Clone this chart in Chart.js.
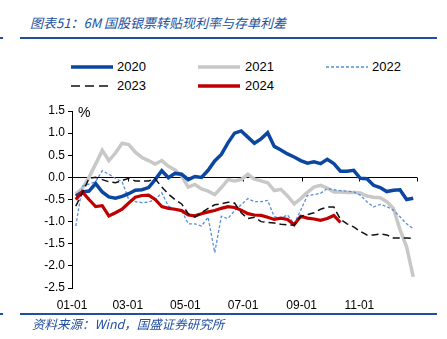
<!DOCTYPE html>
<html lang="zh-CN">
<head>
  <meta charset="UTF-8" />
  <title>6M国股银票转贴现利率与存单利差</title>
  <script src="https://cdn.jsdelivr.net/npm/chart.js"></script>
  <style>
    body {
      margin: 0;
      width: 447px;
      height: 339px;
      position: relative;
      overflow: hidden;
      background: #fff;
      font-family: "Liberation Sans", Arial, sans-serif;
    }
    .title, .source {
      position: absolute;
      font-family: "Noto Sans CJK SC", sans-serif;
      font-style: italic;
      color: #2150a0;
      white-space: nowrap;
      line-height: 16px;
    }
    .title { left: 30px; top: 15px; font-size: 13px; }
    .source { left: 32px; top: 316px; font-size: 12.5px; }
    .rule { position: absolute; height: 2px; background: #1e4fa0; }
    .lg { position: absolute; font-size: 13px; line-height: 14px; color: #000; }
    .sw { position: absolute; }
    .unit { position: absolute; left: 78px; top: 104px; font-size: 14px; }
    #wrap { position: absolute; left: 0; top: 95px; width: 447px; height: 225px; }
  </style>
</head>
<body>

  <div class="title">图表51：6M 国股银票转贴现利率与存单利差</div>
  <div class="rule" style="left:20px; top:37px; width:417px;"></div>
  <div class="rule" style="left:0; top:37px; width:3px;"></div>

  <svg class="sw" style="left:71px; top:62px" width="42" height="10"><line x1="0" y1="5" x2="42" y2="5" stroke="#0b47a1" stroke-width="3.5"/></svg>
  <div class="lg" style="left:117px; top:60px">2020</div>
  <svg class="sw" style="left:198px; top:62px" width="42" height="10"><line x1="0" y1="5" x2="42" y2="5" stroke="#c8c8c8" stroke-width="3.5"/></svg>
  <div class="lg" style="left:245px; top:60px">2021</div>
  <svg class="sw" style="left:326px; top:62px" width="42" height="10"><line x1="0" y1="5" x2="42" y2="5" stroke="#5a8fd8" stroke-width="1.3" stroke-dasharray="3 2"/></svg>
  <div class="lg" style="left:372px; top:60px">2022</div>
  <svg class="sw" style="left:71px; top:81px" width="42" height="10"><line x1="0" y1="5" x2="42" y2="5" stroke="#111" stroke-width="1.6" stroke-dasharray="9 5"/></svg>
  <div class="lg" style="left:117px; top:79px">2023</div>
  <svg class="sw" style="left:198px; top:81px" width="42" height="10"><line x1="0" y1="5" x2="42" y2="5" stroke="#c00000" stroke-width="3.5"/></svg>
  <div class="lg" style="left:245px; top:79px">2024</div>

  <div id="wrap"><canvas id="spreadChart"></canvas></div>
  <div class="unit">%</div>

  <div class="rule" style="left:20px; top:313px; width:417px;"></div>
  <div class="rule" style="left:0; top:313px; width:3px;"></div>
  <div class="source">资料来源：Wind，国盛证券研究所</div>

  <script>
    // weekly observation dates (month-day), same for every year
    const weekDates = [
      '01-05','01-12','01-19','01-26','02-02','02-09','02-16','02-23',
      '03-02','03-09','03-16','03-23','03-30','04-06','04-13','04-20',
      '04-27','05-04','05-11','05-18','05-25','06-01','06-08','06-15',
      '06-22','06-29','07-06','07-13','07-20','07-27','08-03','08-10',
      '08-17','08-24','08-31','09-07','09-14','09-21','09-28','10-05',
      '10-12','10-19','10-26','11-02','11-09','11-16','11-23','11-30',
      '12-07','12-14','12-21','12-28'
    ];

    const y2020 = [
      -0.42,-0.33,-0.31,-0.14,-0.33,-0.44,-0.47,-0.43,-0.37,-0.29,-0.28,-0.23,-0.05,
      0.15,-0.01,0.09,0.07,-0.05,0.02,0.00,0.16,0.37,0.52,0.78,1.00,1.05,
      0.91,0.77,0.87,1.01,0.70,0.62,0.53,0.46,0.38,0.32,0.35,0.31,0.41,
      0.31,0.14,0.14,0.16,-0.02,-0.03,-0.18,-0.23,-0.32,-0.29,-0.28,-0.50,-0.47
    ];
    const y2021 = [
      -0.38,-0.25,0.00,0.30,0.61,0.38,0.55,0.77,0.74,0.57,0.45,0.38,0.30,
      0.38,0.25,0.17,0.03,-0.22,-0.16,-0.26,-0.31,-0.39,-0.23,-0.05,-0.08,-0.05,
      0.07,-0.04,-0.08,-0.12,-0.30,-0.27,-0.42,-0.60,-0.48,-0.34,-0.22,-0.18,-0.24,
      -0.33,-0.33,-0.34,-0.34,-0.35,-0.42,-0.45,-0.46,-0.55,-0.70,-1.18,-1.57,-2.25
    ];
    const y2022 = [
      -1.10,-0.20,-0.15,-0.10,0.15,0.07,-0.02,-0.10,-0.50,-0.55,-0.57,-0.56,-0.50,
      -0.35,-0.65,-0.72,-0.75,-1.05,-1.05,-1.10,-0.90,-1.70,-0.88,-0.93,-0.75,-0.62,
      -0.48,-0.55,-0.55,-0.52,-0.89,-0.92,-0.85,-1.05,-0.74,-0.41,-0.39,-0.36,-0.25,
      -0.28,-0.30,-0.31,-0.33,-0.40,-0.55,-0.67,-0.61,-0.66,-0.74,-0.89,-1.05,-1.16
    ];
    const y2023 = [
      -0.65,-0.35,-0.02,0.00,-0.05,-0.10,-0.12,-0.07,-0.02,-0.08,-0.08,-0.08,-0.03,
      -0.22,-0.38,-0.50,-0.60,-0.82,-0.90,-0.80,-0.70,-0.62,-0.60,-0.56,-0.58,-0.80,
      -0.93,-0.90,-1.00,-1.02,-1.03,-1.06,-1.07,-1.08,-0.88,-0.84,-0.80,-0.72,-0.67,
      -0.67,-0.95,-1.05,-1.12,-1.22,-1.30,-1.30,-1.28,-1.30,-1.37,-1.37,-1.37,-1.38
    ];
    const y2024 = [
      -0.50,-0.33,-0.50,-0.66,-0.64,-0.87,-0.80,-0.72,-0.58,-0.45,-0.41,-0.40,-0.50,
      -0.66,-0.70,-0.72,-0.75,-0.85,-0.87,-0.82,-0.78,-0.75,-0.70,-0.66,-0.68,-0.74,
      -0.82,-0.85,-0.86,-0.90,-0.95,-0.92,-0.95,-1.07,-0.88,-0.92,-0.94,-0.97,-0.93,
      -0.86,-1.02,null,null,null,null,null,null,null,null,null,null,null
    ];

    const tickDates = ['01-01','03-01','05-01','07-01','09-01','11-01'];
    const yTicks = [1.5, 1.0, 0.5, 0.0, -0.5, -1.0, -1.5, -2.0, -2.5];

    const monthStart = [0,31,59,90,120,151,181,212,243,273,304,334];
    function dayOfYear(md) {
      const [m, d] = md.split('-').map(Number);
      return monthStart[m - 1] + d - 1;
    }

    function toPoints(vals) {
      return weekDates.map((d, i) => ({ x: dayOfYear(d), y: vals[i] }));
    }

    // zero line with small month ticks hanging from it
    const zeroAxis = {
      id: 'zeroAxis',
      beforeDatasetsDraw(chart) {
        const { ctx, chartArea, scales } = chart;
        const y0 = Math.round(scales.y.getPixelForValue(0)) + 0.5;
        ctx.save();
        ctx.strokeStyle = '#000';
        ctx.lineWidth = 1;
        ctx.beginPath();
        ctx.moveTo(chartArea.left, y0);
        ctx.lineTo(chartArea.right, y0);
        tickDates.slice(1).map(dayOfYear).concat([365]).forEach(d => {
          const px = Math.round(scales.x.getPixelForValue(d)) + 0.5;
          ctx.moveTo(px, y0);
          ctx.lineTo(px, y0 + 4);
        });
        ctx.stroke();
        ctx.restore();
      }
    };

    const ctx = document.getElementById('spreadChart').getContext('2d');
    new Chart(ctx, {
      type: 'line',
      data: {
        datasets: [
          { label: '2024', data: toPoints(y2024), borderColor: '#c00000', borderWidth: 3.2, order: 1 },
          { label: '2023', data: toPoints(y2023), borderColor: '#111', borderWidth: 1.5, borderDash: [7, 4], order: 0 },
          { label: '2020', data: toPoints(y2020), borderColor: '#0b47a1', borderWidth: 3.5, order: 2 },
          { label: '2022', data: toPoints(y2022), borderColor: '#5a8fd8', borderWidth: 1.3, borderDash: [3, 2], order: 3 },
          { label: '2021', data: toPoints(y2021), borderColor: '#c8c8c8', borderWidth: 3.5, order: 4 }
        ]
      },
      options: {
        responsive: true,
        maintainAspectRatio: false,
        animation: false,
        layout: { padding: { top: 16, right: 30, bottom: 0, left: 0 } },
        elements: {
          point: { radius: 0 },
          line: { tension: 0, fill: false, borderCapStyle: 'butt' }
        },
        plugins: { legend: { display: false }, tooltip: { enabled: false } },
        scales: {
          x: {
            type: 'linear',
            min: 0,
            max: 365,
            grid: { display: false, drawTicks: false },
            border: { display: false },
            afterBuildTicks: s => { s.ticks = tickDates.map(t => ({ value: dayOfYear(t) })); },
            afterFit: s => { s.height = 32; },
            ticks: {
              autoSkip: false,
              maxRotation: 0,
              padding: 10,
              color: '#000',
              font: { family: 'Liberation Sans', size: 12 },
              callback: v => tickDates.find(t => dayOfYear(t) === v) || ''
            }
          },
          y: {
            min: -2.5,
            max: 1.5,
            grid: { drawOnChartArea: false, drawTicks: true, tickLength: 4, color: '#000' },
            border: { display: true, color: '#000', width: 1 },
            afterBuildTicks: s => { s.ticks = yTicks.map(v => ({ value: v })); },
            afterFit: s => { s.width = 72; },
            ticks: {
              padding: 3,
              color: '#000',
              font: { family: 'Liberation Sans', size: 12 },
              callback: v => Number(v).toFixed(1)
            }
          }
        }
      },
      plugins: [zeroAxis]
    });
  </script>

</body>
</html>
